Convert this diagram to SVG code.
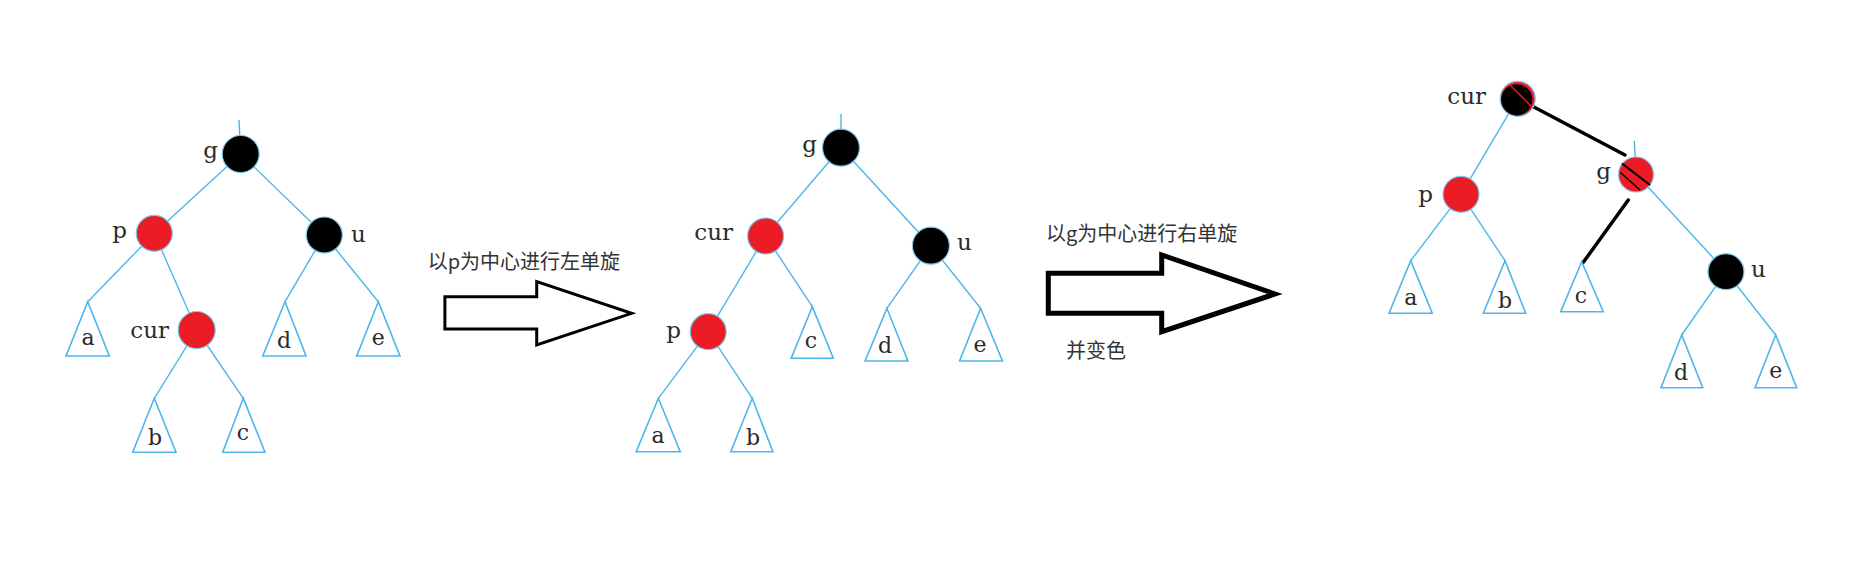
<svg xmlns="http://www.w3.org/2000/svg" width="1851" height="568" viewBox="0 0 1851 568">
<style>
.e{stroke:#4cb6ea;stroke-width:1.4;fill:none}
.k{stroke:#000;stroke-width:3.5;fill:none;stroke-linecap:round}
.t{stroke:#4cb6ea;stroke-width:1.6;fill:#fff;stroke-linejoin:miter}
.r{fill:#ec1c24;stroke:#7fc8ec;stroke-width:1.2}
.b{fill:#000;stroke:#7fc8ec;stroke-width:1.2}
.l{font-family:"DejaVu Serif","Liberation Serif",serif;font-size:23px;fill:#2a2a2a}
.s{font-family:"DejaVu Serif","Liberation Serif",serif;font-size:22px;fill:#2a2a2a;text-anchor:middle}
.c{font-family:"Noto Sans CJK SC","Noto Sans",sans-serif;font-size:20px;fill:#333}
.a{fill:#fff;stroke:#000;stroke-linejoin:miter}
</style>
<rect width="1851" height="568" fill="#fff"/>
<g id="connectors">
<line class="e" x1="239" y1="120" x2="240.7" y2="154"/>
<line class="e" x1="240.7" y1="154" x2="154.3" y2="233.3"/>
<line class="e" x1="240.7" y1="154" x2="324.3" y2="235"/>
<line class="e" x1="154.3" y1="233.3" x2="87.7" y2="301.7"/>
<line class="e" x1="154.3" y1="233.3" x2="196.7" y2="330"/>
<line class="e" x1="324.3" y1="235" x2="285" y2="301.7"/>
<line class="e" x1="324.3" y1="235" x2="378.3" y2="301.7"/>
<line class="e" x1="196.7" y1="330" x2="154.3" y2="398.3"/>
<line class="e" x1="196.7" y1="330" x2="243.3" y2="398.3"/>
<line class="e" x1="841" y1="114" x2="841" y2="147.7"/>
<line class="e" x1="841" y1="147.7" x2="765.6" y2="236"/>
<line class="e" x1="841" y1="147.7" x2="930.9" y2="245.7"/>
<line class="e" x1="765.6" y1="236" x2="708.2" y2="331.7"/>
<line class="e" x1="765.6" y1="236" x2="812.3" y2="306.7"/>
<line class="e" x1="930.9" y1="245.7" x2="886.9" y2="308.3"/>
<line class="e" x1="930.9" y1="245.7" x2="980.6" y2="308.3"/>
<line class="e" x1="708.2" y1="331.7" x2="658.4" y2="398.3"/>
<line class="e" x1="708.2" y1="331.7" x2="752.2" y2="398.3"/>
<line class="e" x1="1634.3" y1="140.7" x2="1636" y2="174"/>
<line class="e" x1="1517.7" y1="98.3" x2="1461" y2="194.3"/>
<line class="k" x1="1532" y1="106" x2="1625" y2="155"/>
<line class="k" x1="1628.3" y1="200" x2="1583.3" y2="262.3"/>
<line class="e" x1="1636" y1="174" x2="1726" y2="271.7"/>
<line class="e" x1="1461" y1="194.3" x2="1410.7" y2="260.7"/>
<line class="e" x1="1461" y1="194.3" x2="1505" y2="260.7"/>
<line class="e" x1="1726" y1="271.7" x2="1681.7" y2="335"/>
<line class="e" x1="1726" y1="271.7" x2="1775.7" y2="335"/>
</g>
<g id="tree1-g"><circle class="b" cx="240.7" cy="154" r="18.5"/><text class="l" x="218" y="158" text-anchor="end">g</text></g>
<g id="tree1-p"><circle class="r" cx="154.3" cy="233.3" r="18"/><text class="l" x="127" y="238" text-anchor="end">p</text></g>
<g id="tree1-u"><circle class="b" cx="324.3" cy="235" r="18"/><text class="l" x="351" y="242">u</text></g>
<g id="tree1-cur"><circle class="r" cx="196.7" cy="330" r="18.5"/><text class="l" x="169" y="338" text-anchor="end">cur</text></g>
<g id="tree1-a"><polygon class="t" points="87.7,301.7 66,356 109.3,356"/><text class="s" x="88" y="345">a</text></g>
<g id="tree1-d"><polygon class="t" points="285,301.7 262.7,356 306,356"/><text class="s" x="284" y="348">d</text></g>
<g id="tree1-e"><polygon class="t" points="378.3,301.7 356.7,356 400,356"/><text class="s" x="378.3" y="345">e</text></g>
<g id="tree1-b"><polygon class="t" points="154.3,398.3 132.7,452.3 176,452.3"/><text class="s" x="155" y="445">b</text></g>
<g id="tree1-c"><polygon class="t" points="243.3,398.3 222.7,452.3 265,452.3"/><text class="s" x="243" y="440">c</text></g>

<g id="arrow1"><polygon class="a" stroke-width="3" points="444.9,296.7 536.7,296.7 536.7,281.7 631.6,313.3 536.7,345 536.7,329 444.9,329"/>
<text class="c" x="427.7" y="269">以p为中心进行左单旋</text></g>

<g id="tree2-g"><circle class="b" cx="841" cy="147.7" r="18.5"/><text class="l" x="817" y="152" text-anchor="end">g</text></g>
<g id="tree2-cur"><circle class="r" cx="765.6" cy="236" r="18"/><text class="l" x="733" y="240" text-anchor="end">cur</text></g>
<g id="tree2-u"><circle class="b" cx="930.9" cy="245.7" r="18.5"/><text class="l" x="957" y="250">u</text></g>
<g id="tree2-p"><circle class="r" cx="708.2" cy="331.7" r="18"/><text class="l" x="681" y="338" text-anchor="end">p</text></g>
<g id="tree2-c"><polygon class="t" points="812.3,306.7 791.2,358.3 833.3,358.3"/><text class="s" x="811" y="348">c</text></g>
<g id="tree2-d"><polygon class="t" points="886.9,308.3 865.1,361 907.9,361"/><text class="s" x="885" y="353">d</text></g>
<g id="tree2-e"><polygon class="t" points="980.6,308.3 959.6,361 1002.5,361"/><text class="s" x="980" y="352">e</text></g>
<g id="tree2-a"><polygon class="t" points="658.4,398.3 636.2,451.7 680.2,451.7"/><text class="s" x="658" y="443">a</text></g>
<g id="tree2-b"><polygon class="t" points="752.2,398.3 730.8,451.7 772.9,451.7"/><text class="s" x="753" y="445">b</text></g>

<g id="arrow2"><polygon class="a" stroke-width="5" points="1048.3,273.3 1161.7,273.3 1161.7,255 1275,294 1161.7,331.7 1161.7,313.3 1048.3,313.3"/>
<text class="c" x="1046" y="241">以g为中心进行右单旋</text>
<text class="c" x="1066" y="358">并变色</text></g>

<g id="tree3-cur"><circle class="r" cx="1517.7" cy="98.8" r="17.5"/><circle cx="1516.8" cy="99.8" r="15.6" fill="#000"/><line x1="1510" y1="85" x2="1531.7" y2="106.7" stroke="#ec1c24" stroke-width="1.5"/><text class="l" x="1486" y="103.5" text-anchor="end">cur</text></g>
<g id="tree3-g"><circle class="r" cx="1636" cy="174.5" r="17.5"/><line x1="1622" y1="163.5" x2="1650" y2="185" stroke="#000" stroke-width="2"/><line x1="1620.5" y1="172.5" x2="1640" y2="190" stroke="#000" stroke-width="1.3"/><text class="l" x="1611" y="178.5" text-anchor="end">g</text></g>
<g id="tree3-p"><circle class="r" cx="1461" cy="194.3" r="18"/><text class="l" x="1433" y="202" text-anchor="end">p</text></g>
<g id="tree3-u"><circle class="b" cx="1726" cy="271.7" r="18"/><text class="l" x="1751" y="277">u</text></g>
<g id="tree3-a"><polygon class="t" points="1410.7,260.7 1389,313.3 1432.3,313.3"/><text class="s" x="1410.7" y="305">a</text></g>
<g id="tree3-b"><polygon class="t" points="1505,260.7 1483.3,313.3 1525.7,313.3"/><text class="s" x="1505" y="308">b</text></g>
<g id="tree3-c"><polygon class="t" points="1581.7,261.7 1560.7,311.7 1603.3,311.7"/><text class="s" x="1581" y="303">c</text></g>
<g id="tree3-d"><polygon class="t" points="1681.7,335 1661,387.7 1702.7,387.7"/><text class="s" x="1681" y="380">d</text></g>
<g id="tree3-e"><polygon class="t" points="1775.7,335 1755,387.7 1796.7,387.7"/><text class="s" x="1775.7" y="378">e</text></g>
</svg>
